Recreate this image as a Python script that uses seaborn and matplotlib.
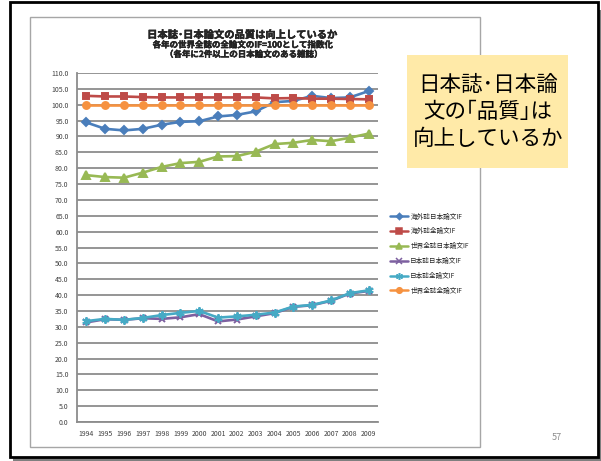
import matplotlib
matplotlib.use("Agg")
import matplotlib.pyplot as plt
import matplotlib.patches as mpatches
import matplotlib.patheffects as pe
from matplotlib.lines import Line2D
import seaborn as sns
import pandas as pd

sns.set_theme(style="white")
plt.rcParams["font.family"] = ["Noto Sans CJK JP", "DejaVu Sans"]

years = list(range(1994, 2010))

series_names = [
    "海外誌日本論文IF",
    "海外誌全論文IF",
    "世界全誌日本論文IF",
    "日本誌日本論文IF",
    "日本誌全論文IF",
    "世界全誌全論文IF",
]

overseas_jp = [94.4, 92.4, 91.9, 92.4, 93.7, 94.6, 94.8, 96.3, 96.8, 97.9,
               100.8, 101.2, 102.8, 102.1, 102.3, 104.3]
overseas_all = [102.8, 102.6, 102.6, 102.4, 102.3, 102.3, 102.3, 102.3, 102.3, 102.3,
                102.0, 102.1, 101.9, 101.9, 101.8, 101.7]
world_jp = [77.8, 77.2, 77.0, 78.6, 80.4, 81.6, 82.0, 83.7, 83.8, 85.2,
            87.6, 88.0, 88.9, 88.5, 89.6, 90.9]
domestic_jp = [31.4, 32.4, 32.2, 32.7, 32.5, 33.0, 34.0, 31.7, 32.3, 33.3,
               34.3, 36.3, 36.8, 38.2, 40.5, 41.3]
domestic_all = [31.8, 32.5, 32.2, 32.8, 33.7, 34.4, 35.0, 32.9, 33.3, 33.8,
                34.5, 36.4, 36.9, 38.3, 40.6, 41.5]
world_all = [100.0] * 16

values = [overseas_jp, overseas_all, world_jp, domestic_jp, domestic_all, world_all]

colors = ["#4A7EBB", "#BE4B48", "#98B954", "#7D60A0", "#46AAC5", "#F69240"]
markers = ["D", "s", "^", "x", (6, 2, 0), "o"]
msizes = [4.2, 5, 5.5, 5, 6, 5]

frames = []
for name, vals in zip(series_names, values):
    frames.append(pd.DataFrame({"year": years, "value": vals, "series": name}))
df = pd.concat(frames, ignore_index=True)

fig = plt.figure(figsize=(6.01, 4.61), dpi=100)
W, H = 601.0, 461.0

def fx(px):
    return px / W

def fy(py):
    return 1 - py / H

# slide frame with drop shadow
fig.patches.append(mpatches.Rectangle((fx(13), fy(461)), fx(588), (457 - 6) / H,
                                      transform=fig.transFigure, facecolor="#7F7F7F",
                                      edgecolor="none", zorder=0))
fig.patches.append(mpatches.Rectangle((fx(10), fy(457)), fx(588), (457 - 2) / H,
                                      transform=fig.transFigure, facecolor="white",
                                      edgecolor="black", linewidth=2, zorder=1))
# chart area border
fig.patches.append(mpatches.Rectangle((fx(30), fy(447)), fx(450), (447 - 17) / H,
                                      transform=fig.transFigure, facecolor="white",
                                      edgecolor="#A6A6A6", linewidth=1, zorder=2))

ax = fig.add_axes([fx(77), fy(422), fx(378 - 77), (422 - 73) / H])
ax.set_zorder(3)
ax.patch.set_alpha(0)

for name, c, m, ms in zip(series_names, colors, markers, msizes):
    sub = df[df["series"] == name]
    sns.lineplot(data=sub, x="year", y="value", ax=ax, color=c, marker=m,
                 markersize=ms, markeredgecolor=c, markeredgewidth=1.4,
                 linewidth=1.9, legend=False)

ax.set_xlim(1993.5, 2009.5)
ax.set_ylim(0, 110)
ax.set_xticks(years)
ax.set_xticklabels([str(y) for y in years], fontsize=5, color="#404040")
ax.set_yticks([i * 5 for i in range(23)])
ax.set_yticklabels([f"{i * 5:.1f}" for i in range(23)], fontsize=5, color="#404040")
ax.set_xlabel("")
ax.set_ylabel("")
ax.tick_params(axis="both", length=0, pad=6)
ax.grid(axis="y", color="#8C8C8C", linewidth=1.3)
ax.set_axisbelow(True)
for side in ["top", "right"]:
    ax.spines[side].set_visible(False)
for side in ["left", "bottom"]:
    ax.spines[side].set_color("#8C8C8C")
    ax.spines[side].set_linewidth(1.3)

# chart title (lightly stroked to give a heavier weight)
bold = [pe.withStroke(linewidth=0.3, foreground="black")]
fig.text(fx(242), fy(35), "日本誌･日本論文の品質は向上しているか", ha="center", va="center",
         fontsize=7.4, fontweight="bold", zorder=5, path_effects=bold)
fig.text(fx(243), fy(45), "各年の世界全誌の全論文のIF=100として指数化", ha="center", va="center",
         fontsize=6.1, fontweight="bold", zorder=5, path_effects=bold)
fig.text(fx(244), fy(54.5), "（各年に2件以上の日本論文のある雑誌）", ha="center", va="center",
         fontsize=6.1, fontweight="bold", zorder=5, path_effects=bold)

# legend
handles = [Line2D([0], [0], color=c, marker=m, markersize=ms - 1, markeredgecolor=c,
                  markeredgewidth=1.1, linewidth=1.8)
           for c, m, ms in zip(colors, markers, msizes)]
leg = fig.legend(handles, series_names, loc="upper left",
                 bbox_to_anchor=(fx(387), fy(210)), frameon=False, fontsize=4.8,
                 handlelength=2.8, handletextpad=0.3, labelspacing=1.02,
                 borderaxespad=0)
leg.set_zorder(6)

# callout box
fig.patches.append(mpatches.Rectangle((fx(407), fy(168)), fx(568 - 407), (168 - 55) / H,
                                      transform=fig.transFigure, facecolor="#FFEAA8",
                                      edgecolor="none", zorder=7))
fig.text(fx(488), fy(112), "日本誌･日本論\n文の｢品質｣は\n向上しているか", ha="center",
         va="center", fontsize=15.5, linespacing=1.3, color="black", zorder=8)

# page number
fig.text(fx(557), fy(437), "57", ha="center", va="center", fontsize=6.5,
         color="#8C8C8C", zorder=8)

fig.savefig("out.png", dpi=100)
